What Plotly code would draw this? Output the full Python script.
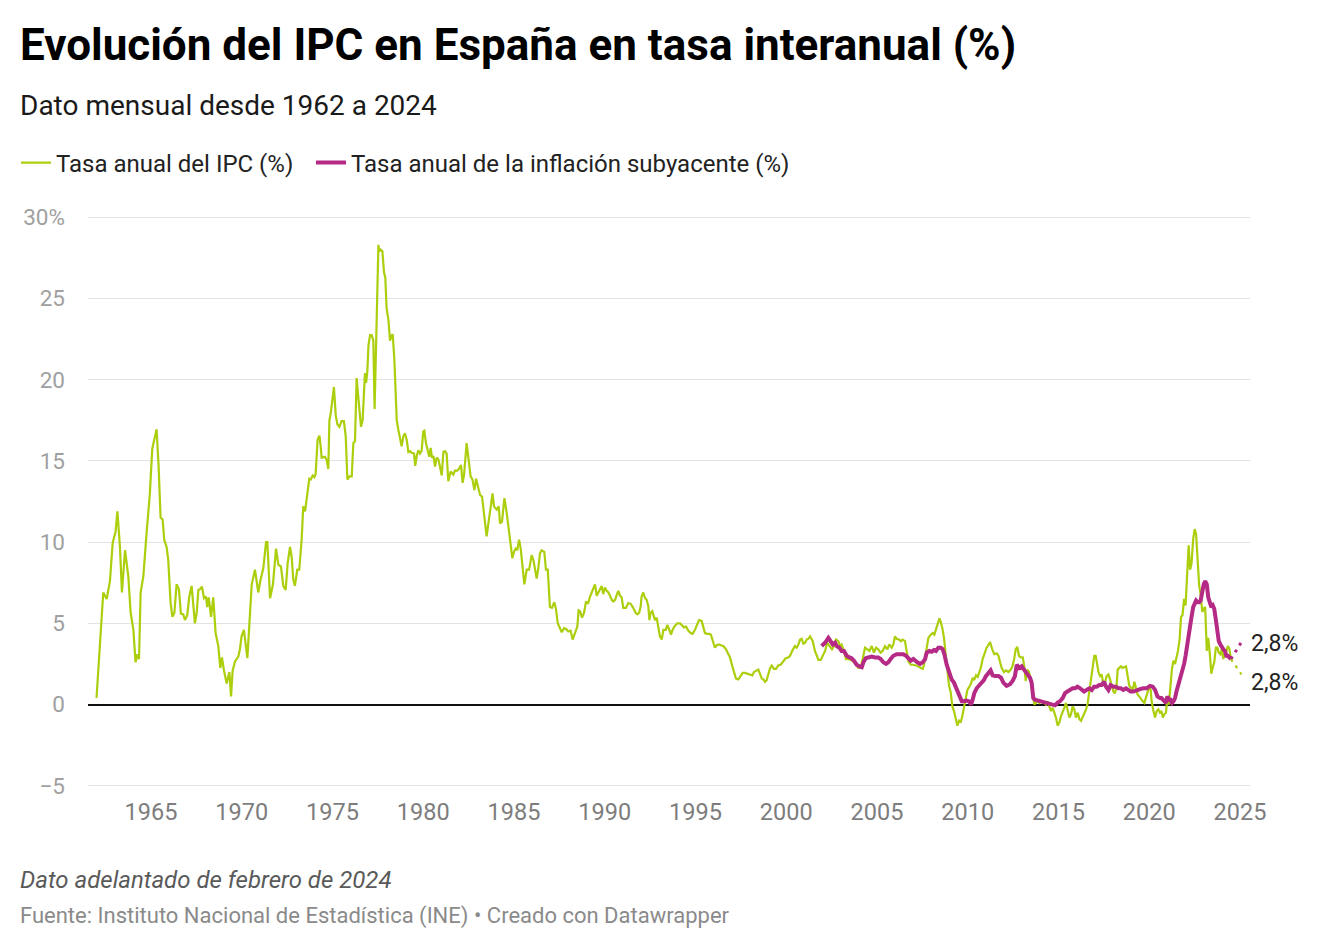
import plotly.graph_objects as go

# ---------------- DATA ----------------
# time as decimal years
ipc_t = [
    1962.0, 1962.37, 1962.56, 1962.74, 1962.89, 1963.05, 1963.15, 1963.29, 1963.4, 1963.57, 1963.75, 1963.88,
    1964.03, 1964.15, 1964.25, 1964.34, 1964.43, 1964.58, 1964.76, 1964.94, 1965.07, 1965.22, 1965.31, 1965.42,
    1965.53, 1965.64, 1965.73, 1965.86, 1965.95, 1966.08, 1966.18, 1966.29, 1966.41, 1966.54, 1966.65, 1966.78,
    1966.87, 1967.0, 1967.11, 1967.24, 1967.33, 1967.42, 1967.52, 1967.61, 1967.7, 1967.81, 1967.92, 1968.03,
    1968.1, 1968.18, 1968.31, 1968.43, 1968.56, 1968.71, 1968.82, 1968.91, 1969.02, 1969.17, 1969.32, 1969.41,
    1969.5, 1969.63, 1969.81, 1969.9, 1969.99, 1970.12, 1970.31, 1970.42, 1970.55, 1970.73, 1970.91, 1971.04,
    1971.19, 1971.34, 1971.41, 1971.56, 1971.72, 1971.89, 1972.02, 1972.16, 1972.29, 1972.42, 1972.53, 1972.66,
    1972.75, 1972.84, 1972.93, 1973.06, 1973.17, 1973.3, 1973.39, 1973.49, 1973.61, 1973.72, 1973.8, 1973.91,
    1974.0, 1974.07, 1974.18, 1974.28, 1974.35, 1974.4, 1974.59, 1974.68, 1974.77, 1974.83, 1974.9, 1974.99,
    1975.08, 1975.18, 1975.27, 1975.38, 1975.5, 1975.63, 1975.73, 1975.82, 1975.93, 1976.06, 1976.15, 1976.24,
    1976.33, 1976.42, 1976.57, 1976.66, 1976.79, 1976.85, 1976.92, 1976.98, 1977.07, 1977.16, 1977.25, 1977.32,
    1977.43, 1977.53, 1977.58, 1977.65, 1977.75, 1977.84, 1977.91, 1977.98, 1978.08, 1978.17, 1978.26, 1978.32,
    1978.41, 1978.54, 1978.63, 1978.72, 1978.81, 1978.9, 1978.99, 1979.09, 1979.18, 1979.27, 1979.36, 1979.49,
    1979.56, 1979.64, 1979.73, 1979.82, 1979.91, 1980.0, 1980.06, 1980.15, 1980.24, 1980.33, 1980.41, 1980.48,
    1980.56, 1980.65, 1980.74, 1980.83, 1980.92, 1981.02, 1981.11, 1981.2, 1981.29, 1981.38, 1981.51, 1981.66,
    1981.75, 1981.88, 1981.99, 1982.08, 1982.17, 1982.25, 1982.39, 1982.48, 1982.61, 1982.71, 1982.82, 1982.91,
    1983.0, 1983.13, 1983.24, 1983.35, 1983.49, 1983.59, 1983.71, 1983.82, 1983.9, 1984.05, 1984.16, 1984.23,
    1984.34, 1984.47, 1984.6, 1984.73, 1984.82, 1984.91, 1985.0, 1985.09, 1985.18, 1985.28, 1985.37, 1985.48,
    1985.57, 1985.7, 1985.83, 1985.88, 1985.97, 1986.07, 1986.16, 1986.25, 1986.34, 1986.43, 1986.52, 1986.67,
    1986.76, 1986.86, 1986.98, 1987.09, 1987.22, 1987.31, 1987.41, 1987.5, 1987.63, 1987.76, 1987.87, 1987.99,
    1988.12, 1988.23, 1988.36, 1988.49, 1988.56, 1988.64, 1988.75, 1988.86, 1988.97, 1989.08, 1989.19, 1989.28,
    1989.37, 1989.46, 1989.56, 1989.65, 1989.74, 1989.83, 1989.92, 1990.01, 1990.11, 1990.2, 1990.29, 1990.38,
    1990.47, 1990.57, 1990.66, 1990.75, 1990.84, 1990.93, 1991.02, 1991.17, 1991.3, 1991.43, 1991.57, 1991.7,
    1991.8, 1991.9, 1991.98, 1992.03, 1992.12, 1992.22, 1992.31, 1992.4, 1992.46, 1992.53, 1992.62, 1992.68,
    1992.77, 1992.86, 1992.95, 1993.04, 1993.14, 1993.23, 1993.36, 1993.45, 1993.56, 1993.65, 1993.74, 1993.87,
    1994.0, 1994.15, 1994.24, 1994.37, 1994.48, 1994.6, 1994.73, 1994.84, 1994.97, 1995.06, 1995.19, 1995.34,
    1995.43, 1995.52, 1995.65, 1995.76, 1995.85, 1995.95, 1996.07, 1996.17, 1996.29, 1996.4, 1996.53, 1996.68,
    1996.81, 1996.9, 1997.03, 1997.12, 1997.23, 1997.36, 1997.45, 1997.6, 1997.73, 1997.86, 1998.0, 1998.13,
    1998.22, 1998.37, 1998.46, 1998.55, 1998.65, 1998.74, 1998.83, 1998.92, 1999.01, 1999.1, 1999.2, 1999.32,
    1999.43, 1999.56, 1999.69, 1999.84, 1999.97, 2000.11, 2000.21, 2000.35, 2000.48, 2000.57, 2000.67, 2000.76,
    2000.85, 2000.94, 2001.03, 2001.13, 2001.22, 2001.31, 2001.46, 2001.58, 2001.77, 2001.9, 2002.01, 2002.14,
    2002.26, 2002.41, 2002.52, 2002.63, 2002.74, 2002.87, 2002.96, 2003.05, 2003.18, 2003.29, 2003.42, 2003.55,
    2003.7, 2003.84, 2003.97, 2004.1, 2004.21, 2004.34, 2004.47, 2004.58, 2004.71, 2004.83, 2004.95, 2005.07,
    2005.2, 2005.31, 2005.44, 2005.57, 2005.68, 2005.81, 2005.9, 2005.99, 2006.08, 2006.21, 2006.32, 2006.41,
    2006.54, 2006.63, 2006.73, 2006.86, 2007.0, 2007.15, 2007.28, 2007.41, 2007.52, 2007.59, 2007.7, 2007.83,
    2007.96, 2008.07, 2008.16, 2008.25, 2008.34, 2008.44, 2008.51, 2008.6, 2008.69, 2008.78, 2008.88, 2008.97,
    2009.06, 2009.15, 2009.24, 2009.33, 2009.43, 2009.52, 2009.61, 2009.7, 2009.79, 2009.89, 2009.98, 2010.09,
    2010.18, 2010.27, 2010.35, 2010.46, 2010.55, 2010.64, 2010.73, 2010.82, 2010.95, 2011.04, 2011.13, 2011.23,
    2011.35, 2011.46, 2011.59, 2011.69, 2011.78, 2011.87, 2012.0, 2012.11, 2012.24, 2012.37, 2012.46, 2012.55,
    2012.64, 2012.73, 2012.82, 2012.92, 2013.03, 2013.12, 2013.19, 2013.28, 2013.38, 2013.47, 2013.58, 2013.67,
    2013.76, 2013.85, 2013.94, 2014.04, 2014.13, 2014.22, 2014.31, 2014.4, 2014.49, 2014.59, 2014.68, 2014.77,
    2014.86, 2014.95, 2015.05, 2015.14, 2015.23, 2015.32, 2015.41, 2015.5, 2015.6, 2015.69, 2015.78, 2015.87,
    2015.96, 2016.06, 2016.15, 2016.24, 2016.33, 2016.42, 2016.52, 2016.61, 2016.7, 2016.79, 2016.88, 2016.97,
    2017.05, 2017.1, 2017.2, 2017.29, 2017.38, 2017.47, 2017.56, 2017.65, 2017.75, 2017.84, 2017.93, 2018.02,
    2018.11, 2018.2, 2018.26, 2018.35, 2018.44, 2018.54, 2018.63, 2018.72, 2018.81, 2018.9, 2018.99, 2019.09,
    2019.18, 2019.27, 2019.36, 2019.45, 2019.55, 2019.64, 2019.73, 2019.82, 2019.91, 2020.0, 2020.08, 2020.13,
    2020.23, 2020.32, 2020.41, 2020.5, 2020.59, 2020.67, 2020.75, 2020.83, 2020.92, 2021.0, 2021.08, 2021.17,
    2021.25, 2021.33, 2021.42, 2021.5, 2021.58, 2021.67, 2021.75, 2021.83, 2021.92, 2022.0, 2022.08, 2022.17,
    2022.25, 2022.33, 2022.42, 2022.5, 2022.58, 2022.67, 2022.75, 2022.83, 2022.92, 2023.0, 2023.08, 2023.17,
    2023.25, 2023.33, 2023.42, 2023.5, 2023.58, 2023.67, 2023.75, 2023.83, 2023.92, 2024.0, 2024.08, 2024.17,
    2024.25, 2024.33, 2024.42, 2024.5,
]
ipc_v = [
    0.4, 6.9, 6.5, 7.6, 9.95, 10.65, 11.9, 9.7, 6.9, 9.5, 7.9, 5.65,
    4.6, 2.6, 3.1, 2.8, 6.9, 7.9, 10.6, 13.0, 15.75, 16.6, 16.95, 14.65,
    11.5, 11.4, 10.15, 9.7, 8.9, 6.25, 5.4, 5.65, 7.4, 7.1, 5.6, 5.55,
    5.2, 5.5, 6.65, 7.3, 6.0, 5.0, 5.65, 7.05, 7.1, 7.25, 6.55, 6.65,
    6.0, 6.6, 5.4, 6.6, 4.4, 3.6, 2.25, 2.9, 2.1, 1.3, 2.0, 0.5,
    2.1, 2.65, 2.95, 3.4, 4.2, 4.6, 2.85, 4.9, 7.4, 8.3, 6.9, 7.7,
    8.4, 10.0, 10.0, 6.55, 7.4, 9.6, 8.6, 8.5, 7.3, 7.05, 8.7, 9.7,
    9.1, 7.7, 7.3, 8.3, 8.3, 10.15, 12.2, 11.9, 12.8, 13.9, 13.85, 14.1,
    14.0, 14.2, 16.3, 16.55, 15.9, 15.2, 15.25, 15.05, 14.5, 17.5, 17.9, 18.95,
    19.55, 17.8, 17.25, 17.1, 17.45, 17.45, 16.5, 13.85, 14.05, 14.05, 16.1, 16.2,
    20.1, 18.95, 17.1, 17.5, 20.4, 19.8, 20.5, 22.1, 22.75, 22.75, 22.4, 18.2,
    23.05, 28.3, 27.9, 28.0, 27.9, 26.6, 26.3, 24.4, 23.7, 22.4, 22.7, 22.8,
    21.2, 17.5, 16.9, 16.3, 15.9, 16.5, 16.7, 16.3, 15.55, 15.6, 15.5, 15.45,
    14.7, 15.3, 15.65, 15.45, 15.6, 16.8, 16.85, 16.1, 15.65, 15.25, 15.8, 15.2,
    15.3, 14.65, 15.2, 15.1, 14.65, 14.1, 15.55, 15.6, 15.45, 13.75, 14.35, 14.15,
    14.4, 14.4, 14.55, 14.75, 13.65, 14.15, 16.1, 15.2, 14.05, 13.85, 13.2, 13.9,
    13.5, 12.9, 12.8, 11.55, 10.35, 11.15, 12.05, 13.0, 12.2, 12.0, 12.2, 11.15,
    11.25, 12.7, 11.8, 10.55, 9.95, 9.0, 9.4, 9.6, 9.5, 10.15, 9.6, 8.3,
    7.4, 8.3, 8.3, 8.6, 9.2, 8.9, 8.3, 7.75, 8.4, 9.3, 9.5, 9.4,
    8.3, 8.3, 6.0, 5.95, 6.3, 5.9, 5.0, 4.8, 4.45, 4.7, 4.65, 4.5,
    4.55, 4.0, 4.4, 4.8, 5.8, 5.75, 5.35, 5.65, 6.35, 6.2, 6.65, 6.9,
    7.1, 7.4, 6.7, 6.9, 7.1, 7.3, 6.8, 7.2, 7.0, 6.9, 6.7, 6.45,
    6.35, 6.45, 6.75, 7.0, 6.7, 6.6, 5.95, 5.95, 6.25, 6.2, 5.95, 5.65,
    5.55, 5.65, 6.05, 6.65, 6.9, 6.55, 6.45, 6.05, 5.2, 5.65, 5.75, 5.45,
    5.2, 5.35, 4.8, 4.2, 4.0, 4.6, 4.6, 4.9, 4.6, 4.3, 4.6, 4.85,
    5.0, 5.0, 4.9, 4.75, 4.8, 4.55, 4.4, 4.35, 4.6, 4.9, 5.2, 5.15,
    4.8, 4.4, 4.35, 4.35, 4.3, 3.9, 3.5, 3.65, 3.7, 3.65, 3.6, 3.4,
    3.1, 2.9, 2.35, 1.95, 1.6, 1.55, 1.7, 1.95, 1.95, 1.9, 1.85, 1.8,
    2.0, 2.1, 2.15, 1.9, 1.6, 1.55, 1.4, 1.5, 1.9, 2.2, 2.4, 2.2,
    2.2, 2.4, 2.45, 2.7, 2.85, 2.9, 3.0, 3.35, 3.6, 3.5, 3.7, 4.0,
    4.05, 3.75, 3.8, 4.0, 4.05, 4.2, 3.9, 3.3, 2.75, 2.75, 3.05, 3.3,
    3.8, 3.6, 3.4, 3.6, 4.0, 3.9, 3.6, 3.7, 3.3, 2.8, 2.8, 2.75,
    2.65, 2.45, 2.25, 2.25, 2.75, 3.5, 3.4, 3.3, 3.6, 3.2, 3.5, 3.4,
    3.2, 3.3, 3.6, 3.4, 3.7, 3.5, 3.7, 4.2, 4.05, 4.0, 3.9, 4.0,
    3.9, 3.4, 2.65, 2.45, 2.45, 2.4, 2.35, 2.25, 2.2, 2.45, 3.3, 4.1,
    4.3, 4.4, 4.3, 4.6, 4.9, 5.3, 5.1, 4.7, 4.1, 3.0, 2.2, 1.15,
    0.75, -0.1, -0.4, -0.9, -1.3, -1.0, -1.1, -0.7, -0.1, 0.3, 0.9, 1.1,
    1.3, 1.65, 1.5, 1.8, 1.7, 2.0, 2.3, 2.8, 3.3, 3.5, 3.65, 3.85,
    3.4, 3.1, 3.15, 3.0, 2.6, 2.25, 2.0, 2.1, 2.0, 2.15, 2.35, 2.75,
    3.4, 3.55, 3.0, 2.9, 2.9, 2.3, 1.45, 2.15, 2.0, 1.35, 0.5, 0.0,
    0.1, 0.2, 0.1, 0.2, 0.1, 0.1, 0.0, 0.2, -0.1, -0.4, -0.2, -0.5,
    -0.8, -1.3, -1.1, -0.7, -0.5, -0.2, 0.1, -0.3, -0.8, -0.6, -0.1, -0.3,
    -0.8, -0.5, -0.9, -1.0, -0.8, -0.6, -0.3, 0.1, 0.9, 1.5, 2.15, 3.0,
    3.0, 2.55, 2.0, 1.75, 1.85, 1.25, 1.35, 1.75, 1.85, 1.55, 1.15, 0.8,
    0.7, 1.15, 2.15, 2.25, 2.35, 2.25, 2.3, 2.35, 1.75, 1.15, 1.05, 0.9,
    1.4, 0.9, 0.6, 0.5, 0.3, 0.2, 0.1, 0.4, 0.8, 1.1, 0.9, 0.2,
    -0.4, -0.8, -0.4, -0.3, -0.5, -0.4, -0.8, -0.6, -0.5, 0.5, 0.0, 1.3,
    2.2, 2.7, 2.5, 2.9, 3.3, 4.0, 5.4, 5.5, 6.5, 6.1, 7.6, 9.8,
    8.3, 8.7, 10.2, 10.8, 10.5, 8.9, 7.3, 6.8, 5.7, 5.9, 6.0, 3.3,
    4.1, 3.2, 1.9, 2.3, 2.6, 3.5, 3.5, 3.2, 3.1, 3.4, 2.8, 3.2,
    3.3, 3.6, 3.4, 2.8,
]

sub_t = [
    2001.95, 2002.14, 2002.32, 2002.45, 2002.56, 2002.69, 2002.78, 2002.93, 2003.05, 2003.18, 2003.33, 2003.48,
    2003.6, 2003.73, 2003.88, 2004.03, 2004.16, 2004.25, 2004.38, 2004.52, 2004.71, 2004.89, 2005.07, 2005.2,
    2005.35, 2005.5, 2005.62, 2005.75, 2005.9, 2006.08, 2006.27, 2006.45, 2006.6, 2006.73, 2006.86, 2007.0,
    2007.09, 2007.22, 2007.37, 2007.52, 2007.65, 2007.74, 2007.88, 2008.01, 2008.14, 2008.25, 2008.38, 2008.51,
    2008.62, 2008.71, 2008.84, 2008.97, 2009.11, 2009.24, 2009.39, 2009.54, 2009.67, 2009.79, 2009.94, 2010.07,
    2010.18, 2010.27, 2010.36, 2010.49, 2010.62, 2010.77, 2010.89, 2011.0, 2011.13, 2011.26, 2011.37, 2011.5,
    2011.69, 2011.83, 2011.96, 2012.14, 2012.33, 2012.47, 2012.6, 2012.7, 2012.84, 2012.97, 2013.1, 2013.21,
    2013.34, 2013.43, 2013.52, 2013.61, 2013.7, 2013.89, 2014.07, 2014.26, 2014.44, 2014.62, 2014.81, 2014.94,
    2015.08, 2015.23, 2015.36, 2015.49, 2015.63, 2015.78, 2015.91, 2016.04, 2016.19, 2016.28, 2016.41, 2016.55,
    2016.7, 2016.83, 2016.96, 2017.1, 2017.25, 2017.38, 2017.51, 2017.62, 2017.75, 2017.87, 2018.02, 2018.17,
    2018.3, 2018.43, 2018.57, 2018.72, 2018.85, 2018.98, 2019.12, 2019.31, 2019.49, 2019.67, 2019.86, 2020.04,
    2020.19, 2020.32, 2020.45, 2020.59, 2020.67, 2020.75, 2020.83, 2020.92, 2021.0, 2021.08, 2021.17, 2021.25,
    2021.33, 2021.42, 2021.5, 2021.58, 2021.67, 2021.75, 2021.83, 2021.92, 2022.0, 2022.08, 2022.17, 2022.25,
    2022.33, 2022.42, 2022.5, 2022.58, 2022.67, 2022.75, 2022.83, 2022.92, 2023.0, 2023.08, 2023.17, 2023.25,
    2023.33, 2023.42, 2023.5, 2023.58, 2023.67, 2023.75, 2023.83, 2023.92, 2024.0, 2024.08, 2024.17, 2024.25,
    2024.33, 2024.42, 2024.5,
]
sub_v = [
    3.6, 3.8, 4.1, 3.9, 3.7, 3.8, 3.6, 3.5, 3.3, 3.3, 3.0, 2.9,
    2.85, 2.7, 2.45, 2.35, 2.3, 2.6, 2.85, 2.9, 2.95, 2.9, 2.9, 2.8,
    2.6, 2.5, 2.6, 2.8, 3.0, 3.1, 3.1, 3.1, 3.0, 2.8, 2.7, 2.8,
    2.7, 2.6, 2.5, 2.6, 2.8, 3.2, 3.3, 3.25, 3.35, 3.3, 3.5, 3.5,
    3.4, 3.1, 2.45, 1.95, 1.55, 1.35, 0.9, 0.5, 0.2, 0.2, 0.25, 0.2,
    0.0, 0.3, 0.7, 1.0, 1.15, 1.35, 1.5, 1.75, 1.9, 2.1, 1.8, 1.75,
    1.75, 1.65, 1.35, 1.15, 1.25, 1.45, 1.75, 2.45, 2.25, 2.35, 2.15, 1.95,
    1.75, 1.65, 1.35, 0.4, 0.3, 0.25, 0.2, 0.15, 0.1, 0.0, -0.05, 0.1,
    0.2, 0.4, 0.7, 0.8, 0.9, 1.0, 1.0, 1.1, 1.0, 0.9, 0.8, 0.9,
    1.0, 0.9, 1.1, 1.1, 1.2, 1.2, 1.4, 1.1, 0.9, 1.2, 1.1, 1.1,
    1.0, 1.0, 0.9, 1.0, 0.9, 0.8, 0.8, 0.9, 0.95, 1.0, 1.0, 1.15,
    1.1, 0.9, 0.5, 0.4, 0.4, 0.3, 0.2, 0.1, 0.5, 0.3, 0.3, 0.1,
    0.2, 0.4, 0.8, 1.1, 1.4, 1.8, 2.1, 2.5, 3.0, 3.5, 4.2, 4.8,
    5.4, 6.0, 6.3, 6.4, 6.3, 6.3, 6.4, 7.0, 7.4, 7.6, 7.4, 6.6,
    6.2, 6.0, 6.1, 5.9, 5.2, 4.5, 3.9, 3.7, 3.5, 3.4, 3.3, 3.0,
    3.0, 2.9, 2.8,
]

# dotted final stretch (last observed value -> advance estimate)
ext_t = [2024.5, 2025.08]
ipc_ext = [2.8, 1.85]
sub_ext = [2.8, 3.85]

ultimo_ipc = "2,8%"
ultimo_sub = "2,8%"

x_ticks = [1965, 1970, 1975, 1980, 1985, 1990, 1995, 2000, 2005, 2010, 2015, 2020, 2025]
y_ticks = [-5, 0, 5, 10, 15, 20, 25, 30]
y_ticktext = ["\u22125", "0", "5", "10", "15", "20", "25", "30%"]

serie_ipc = "Tasa anual del IPC (%)"
serie_sub = "Tasa anual de la inflación subyacente (%)"

# ---------------- STYLE ----------------
OFF = 8  # page body margin
W, H = 1340 - OFF, 950 - OFF
# plot area in screen pixels: x 88..1250, y 213.75..789.25
ML, MR = 88 - OFF, W - (1250 - OFF)
MT, MB = 214 - OFF, H - (789 - OFF)
PW, PH = W - ML - MR, H - MT - MB
GREEN = "#abcf0d"
PURPLE = "#b52a84"
FONT = "Roboto"


def px_x(x):
    return (x - OFF - ML) / PW


def px_y(y):
    return (H - MB - (y - OFF)) / PH


fig = go.Figure()
fig.add_trace(go.Scatter(x=ipc_t, y=ipc_v, mode="lines", name=serie_ipc, legend="legend",
                         line=dict(color=GREEN, width=2.2), hoverinfo="skip"))
fig.add_trace(go.Scatter(x=sub_t, y=sub_v, mode="lines", name=serie_sub, legend="legend2",
                         line=dict(color=PURPLE, width=4), hoverinfo="skip"))
fig.add_trace(go.Scatter(x=ext_t, y=ipc_ext, mode="lines", showlegend=False,
                         line=dict(color=GREEN, width=2.2, dash="3px,5px"), hoverinfo="skip"))
fig.add_trace(go.Scatter(x=ext_t, y=sub_ext, mode="lines", showlegend=False,
                         line=dict(color=PURPLE, width=3, dash="3px,5px"), hoverinfo="skip"))

annotations = [
    dict(text="Dato mensual desde 1962 a 2024", x=px_x(18), y=px_y(106), xref="paper", yref="paper",
         xanchor="left", yanchor="middle", showarrow=False, font=dict(family=FONT, size=28, color="#1a1a1a")),
    dict(text="<i>Dato adelantado de febrero de 2024</i>", x=px_x(18), y=px_y(880), xref="paper", yref="paper",
         xanchor="left", yanchor="middle", showarrow=False, font=dict(family=FONT, size=24, color="#5a5a5a")),
    dict(text="Fuente: Instituto Nacional de Estadística (INE) • Creado con Datawrapper", x=px_x(18), y=px_y(916),
         xref="paper", yref="paper", xanchor="left", yanchor="middle", showarrow=False,
         font=dict(family=FONT, size=22, color="#8a8a8a")),
    dict(text=ultimo_sub, x=ext_t[-1], y=sub_ext[-1], xref="x", yref="y", xanchor="left", yanchor="middle",
         xshift=8, yshift=-1, showarrow=False, font=dict(family=FONT, size=23, color="#222222")),
    dict(text=ultimo_ipc, x=ext_t[-1], y=ipc_ext[-1], xref="x", yref="y", xanchor="left", yanchor="middle",
         xshift=8, yshift=-8, showarrow=False, font=dict(family=FONT, size=23, color="#222222")),
]

legend_common = dict(orientation="h", xref="container", yref="container", y=1 - (163 - OFF) / H,
                     xanchor="left", yanchor="middle", font=dict(family=FONT, size=24, color="#222222"),
                     itemwidth=30, bgcolor="rgba(0,0,0,0)")

fig.update_layout(
    width=W, height=H,
    margin=dict(l=ML, r=MR, t=MT, b=MB, autoexpand=False),
    paper_bgcolor="white", plot_bgcolor="white",
    font=dict(family=FONT, color="#222222"),
    title=dict(text="Evolución del IPC en España en tasa interanual (%)", x=(20 - OFF) / W, xref="container",
               xanchor="left", y=1 - (45 - OFF) / H, yref="container", yanchor="middle",
               font=dict(family=FONT, size=44, color="#000000", weight=700)),
    legend=dict(legend_common, x=(16 - OFF) / W),
    legend2=dict(legend_common, x=(311 - OFF) / W),
    xaxis=dict(range=[1961.53, 2025.55], tickmode="array", tickvals=x_ticks,
               ticktext=[str(v) for v in x_ticks], showgrid=False, zeroline=False, showline=False,
               ticks="", ticklabelstandoff=6, tickfont=dict(family=FONT, size=23.5, color="#7d7d7d"),
               fixedrange=True),
    yaxis=dict(range=[-5.2, 30.2], tickmode="array", tickvals=y_ticks, ticktext=y_ticktext,
               showgrid=True, gridcolor="#e3e3e3", gridwidth=1.2, zeroline=True, zerolinecolor="#111111",
               zerolinewidth=2, showline=False, ticks="", ticklabelstandoff=22,
               tickfont=dict(family=FONT, size=22.5, color="#a0a0a0"), fixedrange=True),
    annotations=annotations,
    showlegend=True,
)

fig.write_html("out.html")
